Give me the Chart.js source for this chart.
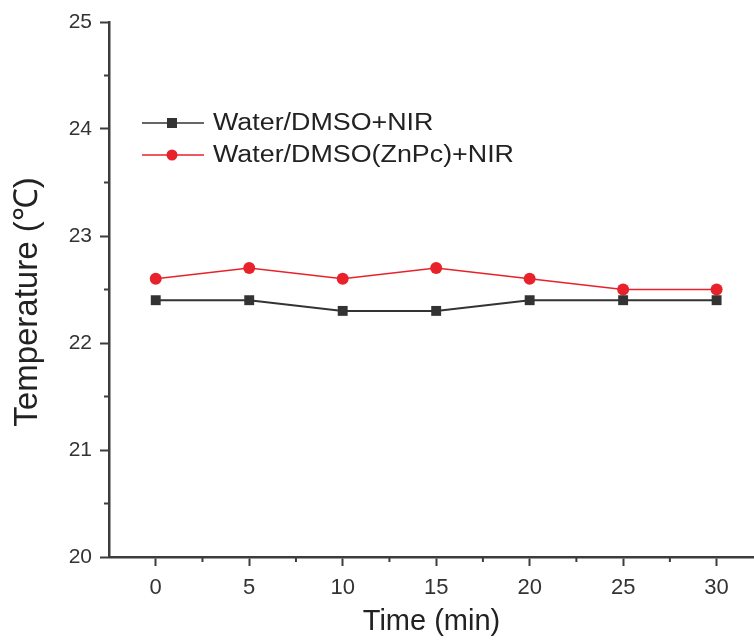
<!DOCTYPE html>
<html>
<head>
<meta charset="utf-8">
<script src="https://cdn.jsdelivr.net/npm/chart.js@4"></script>
<style>
body{margin:0;background:#fff}
#wrap{width:754px;height:644px}
</style>
</head>
<body>
<div id="wrap"><canvas id="myChart"></canvas></div>
<script>
// data
var times = [0, 5, 10, 15, 20, 25, 30];
var waterDmso = [22.4, 22.4, 22.3, 22.3, 22.4, 22.4, 22.4];
var waterZnpc = [22.6, 22.7, 22.6, 22.7, 22.6, 22.5, 22.5];
var seriesNames = ['Water/DMSO+NIR', 'Water/DMSO(ZnPc)+NIR'];
var xTicks = [0, 5, 10, 15, 20, 25, 30];
var yTicks = [20, 21, 22, 23, 24, 25];
var xMinor = [2.5, 7.5, 12.5, 17.5, 22.5, 27.5];
var yMinor = [20.5, 21.5, 22.5, 23.5, 24.5];
var yTitle = 'Temperature (\u2103)';

var axisColor = '#3c3c3c';
var blackColor = '#333333';
var redColor = '#e8222a';
var fontFam = '"Liberation Sans", Arial, sans-serif';

function toPoints(xs, ys){
    var pts = [];
    for (var i = 0; i < xs.length; i++){
        pts.push({x: xs[i], y: ys[i]});
    }
    return pts;
}

// short minor ticks, y title and legend drawn by hand
var extras = {
    id: 'extras',
    afterDraw: function(chart){
        var ctx = chart.ctx;
        var xs = chart.scales.x, ys = chart.scales.y;
        var area = chart.chartArea;
        ctx.save();
        ctx.strokeStyle = axisColor;
        ctx.lineWidth = 2;
        for (var i = 0; i < xMinor.length; i++){
            var px = xs.getPixelForValue(xMinor[i]);
            ctx.beginPath();
            ctx.moveTo(px, area.bottom);
            ctx.lineTo(px, area.bottom + 5);
            ctx.stroke();
        }
        for (var j = 0; j < yMinor.length; j++){
            var py = ys.getPixelForValue(yMinor[j]);
            ctx.beginPath();
            ctx.moveTo(area.left, py);
            ctx.lineTo(area.left - 5, py);
            ctx.stroke();
        }

        // y axis title, a bit below the middle like the original
        ctx.save();
        ctx.translate(28, 302);
        ctx.rotate(-Math.PI / 2);
        ctx.fillStyle = '#222';
        ctx.font = '33px ' + fontFam;
        ctx.textAlign = 'center';
        ctx.textBaseline = 'middle';
        ctx.fillText(yTitle, 0, 0);
        ctx.restore();

        // legend
        var rows = [
            {y: 123, color: blackColor, shape: 'rect', lw: 1.5},
            {y: 155, color: redColor, shape: 'circle', lw: 1.5}
        ];
        for (var k = 0; k < rows.length; k++){
            var r = rows[k];
            ctx.strokeStyle = r.color;
            ctx.lineWidth = r.lw;
            ctx.beginPath();
            ctx.moveTo(142, r.y);
            ctx.lineTo(204, r.y);
            ctx.stroke();
            ctx.fillStyle = r.color;
            if (r.shape == 'rect'){
                ctx.fillRect(167, r.y - 5, 10, 10);
            } else {
                ctx.beginPath();
                ctx.arc(172, r.y, 5.5, 0, Math.PI * 2);
                ctx.fill();
            }
            ctx.save();
            ctx.translate(213, r.y);
            ctx.scale(1.22, 1.05);
            ctx.fillStyle = '#222';
            ctx.font = '22px ' + fontFam;
            ctx.textBaseline = 'middle';
            ctx.fillText(seriesNames[k], 0, 1);
            ctx.restore();
        }
        ctx.restore();
    }
};

var ctx = document.getElementById('myChart').getContext('2d');
var myChart = new Chart(ctx, {
    type: 'line',
    data: {
        datasets: [{
            label: seriesNames[0],
            data: toPoints(times, waterDmso),
            borderColor: blackColor,
            backgroundColor: blackColor,
            borderWidth: 2,
            pointStyle: 'rect',
            pointRadius: 7,
            pointBorderWidth: 0,
            tension: 0
        }, {
            label: seriesNames[1],
            data: toPoints(times, waterZnpc),
            borderColor: redColor,
            backgroundColor: redColor,
            borderWidth: 1.5,
            pointStyle: 'circle',
            pointRadius: 6,
            pointBorderWidth: 0,
            tension: 0
        }]
    },
    options: {
        responsive: true,
        maintainAspectRatio: false,
        animation: false,
        layout: {autoPadding: false, padding: {top: 22, right: 0, left: 0, bottom: 0}},
        plugins: {
            legend: {display: false},
            tooltip: {enabled: false}
        },
        scales: {
            x: {
                type: 'linear',
                min: -2.5,
                max: 32,
                afterBuildTicks: function(scale){
                    scale.ticks = xTicks.map(function(v){ return {value: v}; });
                },
                afterFit: function(scale){
                    scale.height = 87;
                    scale.paddingLeft = 0;
                    scale.paddingRight = 0;
                },
                grid: {
                    drawOnChartArea: false,
                    drawTicks: true,
                    tickLength: 9,
                    tickWidth: 2,
                    tickColor: axisColor
                },
                border: {display: true, color: axisColor, width: 2.5},
                ticks: {
                    color: '#333',
                    padding: 9,
                    maxRotation: 0,
                    font: {family: fontFam, size: 22}
                },
                title: {
                    display: true,
                    text: 'Time (min)',
                    color: '#222',
                    padding: {top: 0, bottom: 5},
                    font: {family: fontFam, size: 29}
                }
            },
            y: {
                min: 20,
                max: 25,
                afterBuildTicks: function(scale){
                    scale.ticks = yTicks.map(function(v){ return {value: v}; });
                },
                afterFit: function(scale){ scale.width = 109; },
                grid: {
                    drawOnChartArea: false,
                    drawTicks: true,
                    tickLength: 9,
                    tickWidth: 2,
                    tickColor: axisColor
                },
                border: {display: true, color: axisColor, width: 2.5},
                ticks: {
                    color: '#333',
                    padding: 8,
                    font: {family: fontFam, size: 21}
                },
                title: {display: false}
            }
        }
    },
    plugins: [extras]
});
</script>
</body>
</html>
